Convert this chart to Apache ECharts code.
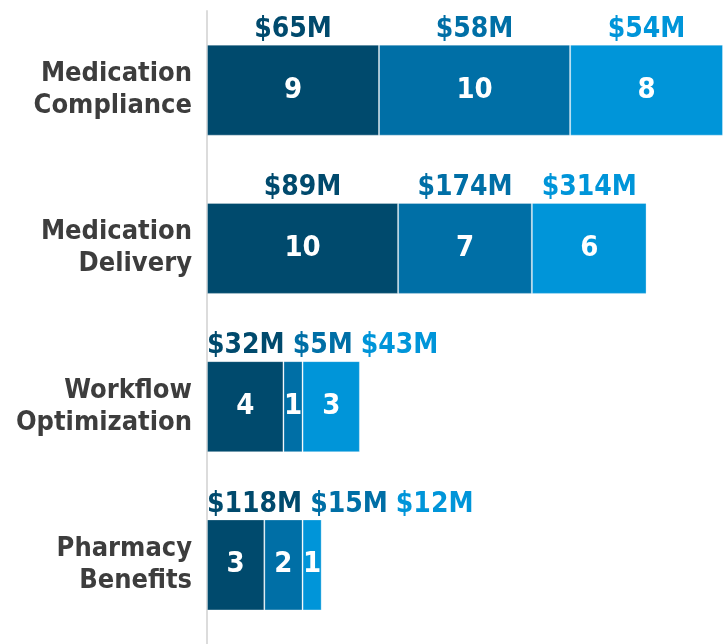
<!DOCTYPE html>
<html>
<head>
<meta charset="utf-8">
<script src="https://cdn.jsdelivr.net/npm/echarts@6/dist/echarts.min.js"></script>
<style>
  html, body { margin: 0; padding: 0; background: #fff; }
  #chart { width: 723px; height: 644px; }
</style>
</head>
<body>
<div id="chart"></div>
<script>
// categories (top to bottom)
var categories = ['Medication\nCompliance', 'Medication\nDelivery', 'Workflow\nOptimization', 'Pharmacy\nBenefits'];

// counts per segment
var countsA = [9, 10, 4, 3];
var countsB = [10, 7, 1, 2];
var countsC = [8, 6, 3, 1];

// dollar labels shown above each segment
var dollarsA = ['$65M', '$89M', '$32M', '$118M'];
var dollarsB = ['$58M', '$174M', '$5M', '$15M'];
var dollarsC = ['$54M', '$314M', '$43M', '$12M'];

var colors = ['#004a6d', '#006fa6', '#0095d9'];
var FONT = 'DejaVu Sans Condensed';
var LABEL_SIZE = 28;

var counts = [countsA, countsB, countsC];
var dollars = [dollarsA, dollarsB, dollarsC];

var myChart = echarts.init(document.getElementById('chart'));

function barSeries(j) {
    return {
        type: 'bar',
        stack: 'count',
        barWidth: 91,
        barGap: '-100%',
        data: counts[j],
        itemStyle: {
            color: colors[j],
            borderColor: 'rgba(255,255,255,0.3)',
            borderWidth: 1
        },
        label: {
            show: true,
            position: 'inside',
            color: '#fff',
            fontFamily: FONT,
            fontWeight: 'bold',
            fontSize: 29
        },
        silent: true
    };
}

function labelSeries(j, offsets) {
    return {
        type: 'bar',
        stack: 'dollar',
        barWidth: 91,
        barGap: '-100%',
        silent: true,
        itemStyle: { color: 'rgba(0,0,0,0)' },
        data: counts[j].map(function (v, i) {
            return {
                value: v,
                label: { offset: [offsets ? offsets[j][i] : 0, 0] }
            };
        }),
        label: {
            show: true,
            position: 'top',
            distance: 1,
            color: colors[j],
            fontFamily: FONT,
            fontWeight: 'bold',
            fontSize: LABEL_SIZE,
            formatter: function (p) {
                return dollars[j][p.dataIndex];
            }
        }
    };
}

function buildOption(offsets) {
    return {
        animation: false,
        grid: { left: 207, right: 0, top: 11, bottom: 0 },
        xAxis: {
            type: 'value',
            min: 0,
            max: 27,
            show: false
        },
        yAxis: {
            type: 'category',
            inverse: true,
            data: categories,
            axisLine: { show: true, lineStyle: { color: '#dcdcdc', width: 2 } },
            axisTick: { show: false },
            axisLabel: {
                color: '#3d3d3d',
                fontFamily: FONT,
                fontWeight: 'bold',
                fontSize: 27,
                lineHeight: 32,
                margin: 15
            }
        },
        series: [
            barSeries(0), barSeries(1), barSeries(2),
            labelSeries(0, offsets), labelSeries(1, offsets), labelSeries(2, offsets)
        ]
    };
}

myChart.setOption(buildOption(null));

// push the dollar labels apart where segments are too narrow
var ctx = document.createElement('canvas').getContext('2d');
ctx.font = 'bold ' + LABEL_SIZE + 'px "' + FONT + '"';
var gap = 8;
var axisLeft = myChart.convertToPixel({ xAxisIndex: 0 }, 0);
var offsets = [[], [], []];
categories.forEach(function (c, i) {
    var start = 0;
    var prevRight = axisLeft - gap;
    for (var j = 0; j < 3; j++) {
        var end = start + counts[j][i];
        var mid = (myChart.convertToPixel({ xAxisIndex: 0 }, start) +
                   myChart.convertToPixel({ xAxisIndex: 0 }, end)) / 2;
        var w = ctx.measureText(dollars[j][i]).width;
        var centre = Math.max(mid, prevRight + gap + w / 2);
        offsets[j][i] = centre - mid;
        prevRight = centre + w / 2;
        start = end;
    }
});

myChart.setOption(buildOption(offsets));
</script>
</body>
</html>
